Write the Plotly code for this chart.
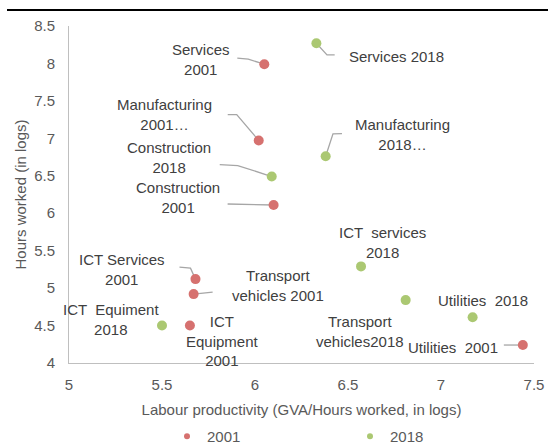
import plotly.graph_objects as go

# ---------------- data ----------------
sectors = ["Services", "Manufacturing", "Construction", "ICT services",
           "Transport vehicles", "ICT equipment", "Utilities"]
prod_2001 = [6.05, 6.02, 6.10, 5.68, 5.67, 5.65, 7.44]
hours_2001 = [7.99, 6.97, 6.11, 5.12, 4.92, 4.50, 4.24]
prod_2018 = [6.33, 6.38, 6.09, 6.57, 6.81, 5.50, 7.17]
hours_2018 = [8.27, 6.76, 6.49, 5.29, 4.84, 4.50, 4.61]
labels_2001 = ["Services<br>2001", "Manufacturing<br>2001…", "Construction<br>2001",
               "ICT Services<br>2001", "Transport<br>vehicles 2001",
               "ICT<br>Equipment<br>2001", "Utilities  2001"]
labels_2018 = ["Services 2018", "Manufacturing<br>2018…", "Construction<br>2018",
               "ICT  services<br>2018", "Transport<br>vehicles2018",
               "ICT  Equiment<br>2018", "Utilities  2018"]
x_ticks = [5, 5.5, 6, 6.5, 7, 7.5]
y_ticks = [4, 4.5, 5, 5.5, 6, 6.5, 7, 7.5, 8, 8.5]

# ---------------- style / label placement (pixels) ----------------
RED = "#D6716F"
GREEN = "#ABC872"
TXT = "#404040"
AX = "#595959"
FONT = "Liberation Sans, Arial, sans-serif"

off_2001 = [(-63, 5), (-94, 26), (-96, 7.5), (-73, 9.5), (84, 9), (33, -15), (-70, -2)]
off_2018 = [(80, -13), (77, 22), (-103, 19.5), (21, 24), (-46, -31), (-50.6, 5.7), (10.5, 17)]
lead_2001 = ["M0,0 L-16,5 L-27,6", "M0,0 L-22,26 L-31,26", "M0,0 L-46,1",
             "M0,0 L-5,11 L-16,12", "M0,0 L19,2", None, "M0,0 L-19,0"]
lead_2018 = ["M0,0 L10.6,-11.7 L18.3,-11.7", "M0,0 L7.3,22.4 L16.3,22.7",
             "M0,0 L-34,11 L-52,12", None, None, None, None]

L, R, T, B = 69, 14, 26, 81
W, H = 548, 444
PW, PH = W - L - R, H - T - B


def px_x(p):
    return (p - L) / PW


def px_y(p):
    return (H - B - p) / PH


fig = go.Figure()
fig.add_trace(go.Scatter(x=prod_2001, y=hours_2001, mode="markers", name="2001",
                         marker=dict(color=RED, size=10), showlegend=False))
fig.add_trace(go.Scatter(x=prod_2018, y=hours_2018, mode="markers", name="2018",
                         marker=dict(color=GREEN, size=10), showlegend=False))
# legend entries
fig.add_trace(go.Scatter(x=[None], y=[None], mode="markers", name="2001",
                         marker=dict(color=RED, size=6)))
fig.add_trace(go.Scatter(x=[None], y=[None], mode="markers", name="2018",
                         marker=dict(color=GREEN, size=6)))

annotations = []
# top black rule
shapes = [dict(type="line", xref="paper", yref="paper", layer="above",
               x0=px_x(7), x1=px_x(W), y0=px_y(10), y1=px_y(10),
               line=dict(color="black", width=2))]
for xs, ys, labs, offs, leads in [(prod_2001, hours_2001, labels_2001, off_2001, lead_2001),
                                  (prod_2018, hours_2018, labels_2018, off_2018, lead_2018)]:
    for xv, yv, lab, (dx, dy), lead in zip(xs, ys, labs, offs, leads):
        annotations.append(dict(x=xv, y=yv, xref="x", yref="y", text=lab, showarrow=False,
                                xshift=dx, yshift=dy, xanchor="center", yanchor="middle",
                                align="center", font=dict(family=FONT, size=15, color=TXT)))
        if lead:
            shapes.append(dict(type="path", xref="x", yref="y", xsizemode="pixel",
                               ysizemode="pixel", xanchor=xv, yanchor=yv, path=lead,
                               line=dict(color="#A6A6A6", width=1.3), layer="below"))

fig.update_layout(
    width=W, height=H,
    margin=dict(l=L, r=R, t=T, b=B, autoexpand=False),
    paper_bgcolor="white", plot_bgcolor="white",
    font=dict(family=FONT, size=15, color=AX),
    showlegend=True,
    legend=dict(orientation="h", x=px_x(167), xanchor="left", y=px_y(420),
                yanchor="top", entrywidth=138, entrywidthmode="pixels",
                font=dict(family=FONT, size=15, color=AX), itemwidth=30),
    annotations=annotations, shapes=shapes,
)
fig.update_xaxes(range=[5, 7.5], tickvals=x_ticks, ticktext=[f"{v:g}" for v in x_ticks],
                 showgrid=False, zeroline=False, showline=True, linecolor="#BFBFBF",
                 linewidth=1, ticks="", ticklabelstandoff=8,
                 tickfont=dict(family=FONT, size=15, color=AX),
                 title=dict(text="Labour productivity (GVA/Hours worked, in logs)",
                            font=dict(family=FONT, size=15, color=AX), standoff=12))
fig.update_yaxes(range=[4, 8.5], tickvals=y_ticks, ticktext=[f"{v:g}" for v in y_ticks],
                 showgrid=False, zeroline=False, showline=True, linecolor="#BFBFBF",
                 linewidth=1, ticks="", ticklabelstandoff=10,
                 tickfont=dict(family=FONT, size=15, color=AX),
                 title=dict(text="Hours worked (in logs)",
                            font=dict(family=FONT, size=15, color=AX), standoff=3))

fig.write_html("out.html", config={"displayModeBar": False},
               post_script="document.body.style.margin='0';document.body.style.overflow='hidden';")
